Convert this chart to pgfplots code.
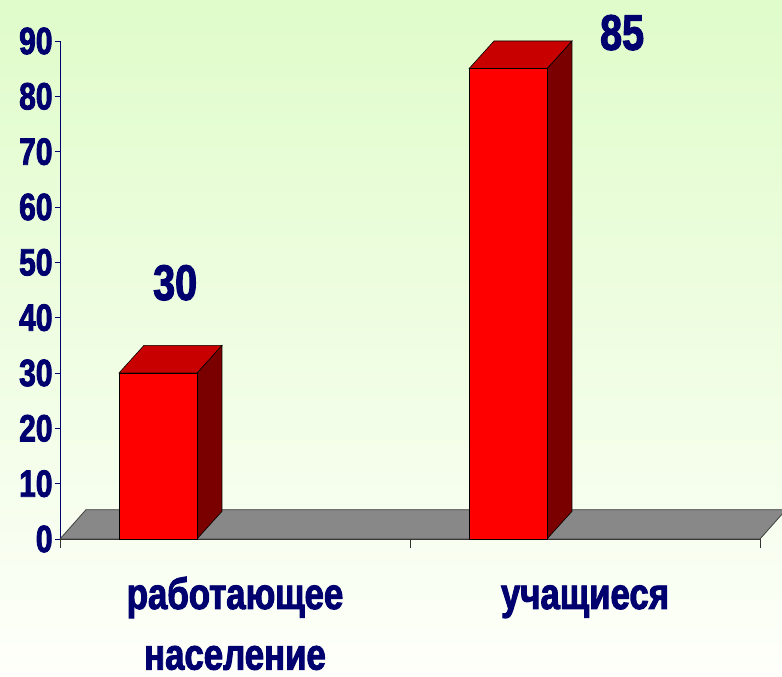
\documentclass[border=0pt]{standalone}
\usepackage{pgfplots}
\usepackage{pgfplotstable}
\pgfplotsset{compat=1.18}
\usepackage{fontspec}
\newfontfamily\lbl[FakeStretch=0.79, BoldFeatures={FakeBold=2.2}]{Liberation Sans}

\definecolor{navy}{RGB}{0,0,110}
\definecolor{bgtop}{RGB}{224,252,202}
\definecolor{bgbot}{RGB}{254,255,250}
\definecolor{barfront}{RGB}{255,0,0}
\definecolor{bartop}{RGB}{200,0,0}
\definecolor{barside}{RGB}{122,0,0}
\definecolor{floorgray}{RGB}{136,136,136}

% one row per category: position and value
\pgfplotstableread{
cat value
0   30
1   85
}\datatable

\begin{document}
\begin{tikzpicture}[x=1pt,y=1pt]
\clip (0,0) rectangle (782,677);
\shade[top color=bgtop, bottom color=bgbot] (0,0) rectangle (782,677);
\begin{axis}[
  at={(60pt,138pt)}, anchor=south west,
  scale only axis, width=700pt, height=498pt,
  xmin=0, xmax=2, ymin=0, ymax=90,
  clip=false,
  axis x line*=bottom, axis y line*=left,
  x axis line style={black!80, line width=0.8pt},
  y axis line style={navy, line width=0.8pt},
  tick align=outside,
  ytick={0,10,...,90},
  xtick={0,1,2}, xticklabels={},
  ytick style={navy, line width=0.8pt, /pgfplots/major tick length=5pt},
  xtick style={black!80, line width=0.8pt, /pgfplots/major tick length=9pt},
  /pgf/number format/assume math mode=true,
  yticklabel style={font=\lbl\bfseries\fontsize{38}{38}\selectfont,
    text=navy, inner sep=0pt, anchor=east, xshift=-3pt},
]
% floor
\addplot[fill=floorgray, draw=black!75, line width=0.8pt]
  coordinates {(0,0) (2,0) (2.0743,5.3) (0.0743,5.3)} -- cycle;
% depth faces of the bars
\addplot[fill=barside, draw=black, line width=0.6pt]
  coordinates {(0.3914,0) (0.4628,5) (0.4628,35) (0.3914,30)} -- cycle;
\addplot[fill=bartop, draw=black, line width=0.6pt]
  coordinates {(0.1686,30) (0.3914,30) (0.4628,35) (0.2400,35)} -- cycle;
\addplot[fill=barside, draw=black, line width=0.6pt]
  coordinates {(1.3914,0) (1.4628,5) (1.4628,90) (1.3914,85)} -- cycle;
\addplot[fill=bartop, draw=black, line width=0.6pt]
  coordinates {(1.1686,85) (1.3914,85) (1.4628,90) (1.2400,90)} -- cycle;
% front faces
\addplot[ybar, bar width=78pt, fill=barfront, draw=black, line width=0.6pt]
  table[x expr=\thisrow{cat}+0.28, y=value] {\datatable};

% value labels
\node[anchor=base, inner sep=0pt, text=navy,
  font=\lbl\bfseries\fontsize{50}{50}\selectfont] at (axis cs:0.329,43.2) {30};
\node[anchor=base, inner sep=0pt, text=navy,
  font=\lbl\bfseries\fontsize{50}{50}\selectfont] at (axis cs:1.606,88.4) {85};

% category labels
\node[anchor=base, inner sep=0pt, text=navy,
  font=\lbl\bfseries\fontsize{44}{44}\selectfont] at (axis cs:0.5,-12.65) {работающее};
\node[anchor=base, inner sep=0pt, text=navy,
  font=\lbl\bfseries\fontsize{44}{44}\selectfont] at (axis cs:0.5,-23.6) {население};
\node[anchor=base, inner sep=0pt, text=navy,
  font=\lbl\bfseries\fontsize{44}{44}\selectfont] at (axis cs:1.5,-12.65) {учащиеся};
\end{axis}
\end{tikzpicture}
\end{document}
